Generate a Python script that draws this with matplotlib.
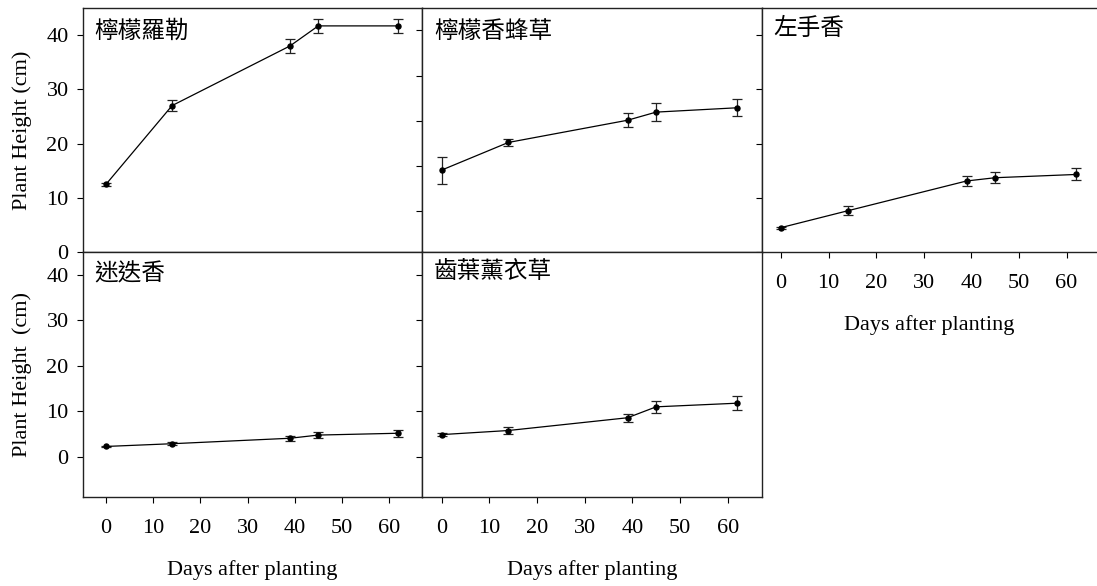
import numpy as np
import matplotlib
matplotlib.use("Agg")
import matplotlib.pyplot as plt

plt.rcParams['font.family'] = ['Liberation Serif', 'Noto Sans CJK TC']

days = [0, 14, 39, 45, 62]

names = ["檸檬羅勒", "檸檬香蜂草", "左手香", "迷迭香", "齒葉薰衣草"]

# mean plant height (cm) and error per species
basil_h = [12.5, 27.0, 38.0, 41.7, 41.7]
basil_e = [0.3, 1.0, 1.3, 1.3, 1.3]
balm_h = [15.1, 20.2, 24.3, 25.8, 26.6]
balm_e = [2.5, 0.7, 1.3, 1.6, 1.6]
cuban_h = [4.5, 7.6, 13.1, 13.7, 14.3]
cuban_e = [0.2, 0.8, 1.0, 1.0, 1.1]
rosemary_h = [2.3, 2.9, 4.1, 4.8, 5.2]
rosemary_e = [0.2, 0.3, 0.5, 0.7, 0.8]
lavender_h = [4.9, 5.8, 8.6, 11.0, 11.8]
lavender_e = [0.3, 0.7, 0.9, 1.3, 1.5]

heights = [basil_h, balm_h, cuban_h, rosemary_h, lavender_h]
errors = [basil_e, balm_e, cuban_e, rosemary_e, lavender_e]

xticks = [0, 10, 20, 30, 40, 50, 60]
yticks = [0, 10, 20, 30, 40]
balm_yticks = [7.6, 15.9, 24.1, 32.4, 40.9]

W, H = 1097, 586
fig = plt.figure(figsize=(W / 100, H / 100), dpi=100)

top_b, top_h = 1 - 252 / H, 244 / H
bot_b, bot_h = 1 - 497 / H, 245 / H
cols = [(82.5 / W, 339.5 / W), (422 / W, 340 / W), (762 / W, 335 / W)]
xlims = [(-5, 67), (-4.1, 67.2), (-4.0, 66.4)]

boxes = [
    (cols[0], top_b, top_h, xlims[0], (0, 45)),
    (cols[1], top_b, top_h, xlims[1], (0, 45)),
    (cols[2], top_b, top_h, xlims[2], (0, 45)),
    (cols[0], bot_b, bot_h, xlims[0], (-8.8, 45)),
    (cols[1], bot_b, bot_h, xlims[1], (-8.8, 45)),
]
title_y = [0.905, 0.905, 0.918, 0.91, 0.922]

axes = []
for i, ((l, w), b, h, xl, yl) in enumerate(boxes):
    ax = fig.add_axes([l, b, w, h])
    ax.errorbar(days, heights[i], yerr=errors[i], color='black', lw=0.9,
                marker='o', ms=3.6, capsize=3.5, elinewidth=0.9, capthick=0.9,
                ecolor='#222222')
    ax.set_xlim(xl)
    ax.set_ylim(yl)
    ax.text(0.035, title_y[i], names[i], transform=ax.transAxes, fontsize=17,
            va='center', ha='left', family=['Noto Sans CJK TC'])
    ax.tick_params(direction='out', length=4, width=0.8, labelsize=16)
    ax.tick_params(axis='x', pad=12)
    ax.tick_params(axis='y', pad=6)
    for s in ax.spines.values():
        s.set_linewidth(1.0)
        s.set_color('#222222')
    axes.append(ax)

# y ticks
for i in (0, 2, 3, 4):
    axes[i].set_yticks(yticks)
axes[1].set_yticks(balm_yticks)
for i in (1, 2, 4):
    axes[i].set_yticklabels([])

# x ticks
for i in (0, 1):
    axes[i].set_xticks([])
for i in (2, 3, 4):
    axes[i].set_xticks(xticks)
    axes[i].set_xlabel("Days after planting", fontsize=16, labelpad=16)
axes[2].spines['right'].set_visible(False)

axes[0].set_ylabel("Plant Height (cm)", fontsize=16, labelpad=10)
axes[3].set_ylabel("Plant Height  (cm)", fontsize=16, labelpad=10)

fig.savefig("out.png", dpi=100)
